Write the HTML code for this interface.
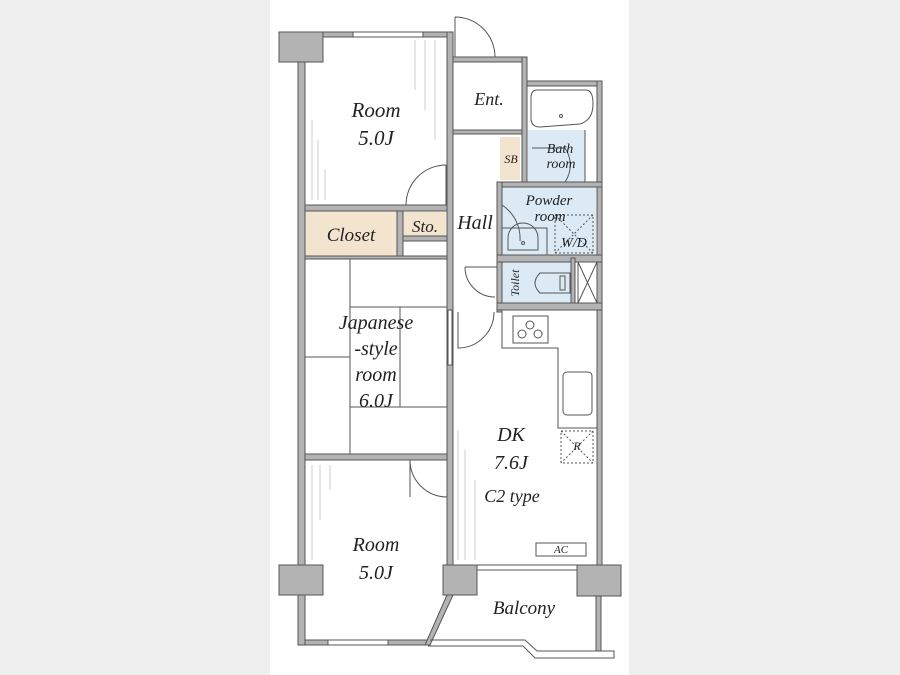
<!DOCTYPE html>
<html><head><meta charset="utf-8"><style>
html,body{margin:0;padding:0;background:#efefef;}
svg{display:block}
text{font-family:"Liberation Serif",serif;font-style:italic;fill:#222;text-anchor:middle}
</style></head><body>
<svg width="900" height="675" viewBox="0 0 900 675" xmlns="http://www.w3.org/2000/svg">
<rect x="0" y="0" width="900" height="675" fill="#efefef"/>
<rect x="270" y="0" width="359" height="675" fill="#fff"/>

<!-- fills -->
<rect x="305" y="211" width="92" height="45" fill="#f3e4cf"/>
<rect x="403" y="212" width="43" height="24" fill="#f3e4cf"/>
<rect x="500" y="137" width="20" height="43" fill="#f3e4cf"/>
<rect x="528" y="130" width="57" height="52" fill="#dbeaf5"/>
<rect x="502" y="187" width="94" height="68" fill="#dbeaf5"/>
<rect x="502" y="262" width="69" height="41" fill="#dbeaf5"/>

<g fill="#b3b3b3" stroke="#555" stroke-width="1">
<!-- outer left wall -->
<rect x="298" y="60" width="7" height="585"/>
<!-- top wall room -->
<rect x="305" y="32" width="148" height="5"/>
<!-- wall hall-left -->
<rect x="447" y="32" width="6" height="560"/>
<!-- ent walls -->
<rect x="453" y="57" width="74" height="5"/>
<rect x="522" y="57" width="5" height="126"/>
<rect x="453" y="130" width="69" height="4"/>
<!-- bath outer -->
<rect x="527" y="81" width="75" height="5"/>
<rect x="597" y="81" width="5" height="486"/>
<!-- powder block -->
<rect x="497" y="182" width="105" height="5"/>
<rect x="497" y="182" width="5" height="130"/>
<rect x="497" y="255" width="105" height="7"/>
<rect x="571" y="258" width="4" height="50"/>
<rect x="497" y="303" width="105" height="7"/>
<!-- room/closet walls -->
<rect x="305" y="205" width="142" height="6"/>
<rect x="397" y="211" width="6" height="48"/>
<rect x="403" y="236" width="44" height="5"/>
<rect x="305" y="256" width="142" height="3"/>
<rect x="305" y="454" width="142" height="6"/>
<!-- bottom wall -->
<rect x="305" y="640" width="123" height="5"/>
<!-- pillars -->
<rect x="279" y="32" width="44" height="30"/>
<rect x="279" y="565" width="44" height="30"/>
<rect x="443" y="565" width="34" height="30"/>
<rect x="577" y="565" width="44" height="31"/>
<!-- balcony right wall -->
<rect x="596" y="596" width="5" height="55"/>
</g>
<!-- windows -->
<g stroke="#555" stroke-width="1" fill="#fff">
<rect x="353" y="32" width="70" height="5"/>
<rect x="328" y="640" width="60" height="5"/>
<rect x="477" y="565" width="100" height="5"/>
<rect x="448" y="310" width="4" height="55"/>
</g>
<!-- diagonal wall lower room -->
<path d="M447 595 L425 645 L430 645 L453 595 Z" fill="#b3b3b3" stroke="#555"/>
<!-- balcony rail -->
<g fill="none" stroke="#555" stroke-width="1">
<path d="M430 640 L525 640 L537 651 L596 651"/>
<path d="M428 646 L523 646 L535 658 L614 658 L614 651 L601 651"/>
</g>

<!-- interior thin lines -->
<g fill="none" stroke="#555" stroke-width="1">
<!-- bathtub -->
<path d="M537 90 H586 Q593 90 593 104 Q593 120 580 124 L540 127 Q531 127 531 118 V98 Q531 90 537 90 Z"/>
<circle cx="561" cy="116" r="1.5"/>
<line x1="585" y1="130" x2="585" y2="182"/>
<!-- tatami -->
<line x1="350" y1="259" x2="350" y2="454"/>
<line x1="350" y1="307" x2="447" y2="307"/>
<line x1="305" y1="357" x2="350" y2="357"/>
<line x1="400" y1="307" x2="400" y2="407"/>
<line x1="350" y1="407" x2="447" y2="407"/>
<!-- doors -->
<path d="M455 17 A40 40 0 0 1 495 57 M455 17 V57"/>
<path d="M446 165 A40 40 0 0 0 406 205 M446 165 V205"/>
<path d="M502 205 A40 40 0 0 1 520 241"/>
<path d="M532 148 H565 A30 30 0 0 1 565 182"/>
<path d="M465 267 A30 30 0 0 0 495 297 M465 267 H497"/>
<path d="M458 312 V348 A36 36 0 0 0 494 312"/>
<path d="M410 460 A37 37 0 0 0 447 497 M410 460 V497"/>
<!-- sink powder -->
<path d="M508 250 V238 A15 15 0 0 1 538 238 V250 Z M502 228 H547 V255"/>
<circle cx="523" cy="243" r="1.5"/>
<!-- W/D -->
<rect x="555" y="215" width="38" height="38" stroke-dasharray="2,2"/>
<line x1="555" y1="215" x2="593" y2="253" stroke-dasharray="2,2"/>
<line x1="593" y1="215" x2="555" y2="253" stroke-dasharray="2,2"/>
<!-- toilet -->
<path d="M570 273 H540 Q530 283 540 293 H570 Z"/>
<rect x="560" y="276" width="5" height="14"/>
<!-- X box -->
<rect x="578" y="262" width="19" height="41"/>
<line x1="578" y1="262" x2="597" y2="303"/><line x1="597" y1="262" x2="578" y2="303"/>
<!-- kitchen -->
<path d="M502 310 V348 H558 V428 H597"/>
<rect x="513" y="316" width="35" height="27"/>
<circle cx="530" cy="325" r="4"/><circle cx="522" cy="334" r="4"/><circle cx="538" cy="334" r="4"/>
<rect x="563" y="372" width="29" height="43" rx="4"/>
<rect x="561" y="431" width="32" height="32" stroke-dasharray="2,2"/>
<line x1="561" y1="431" x2="593" y2="463" stroke-dasharray="2,2"/>
<line x1="593" y1="431" x2="561" y2="463" stroke-dasharray="2,2"/>
<rect x="536" y="543" width="50" height="13"/>
</g>
<!-- curtain hatch -->
<g stroke="#ccc" stroke-width="1">
<line x1="415" y1="40" x2="415" y2="90"/><line x1="425" y1="40" x2="425" y2="110"/><line x1="435" y1="40" x2="435" y2="140"/>
<line x1="312" y1="120" x2="312" y2="200"/><line x1="318" y1="140" x2="318" y2="200"/><line x1="325" y1="170" x2="325" y2="200"/>
<line x1="312" y1="465" x2="312" y2="560"/><line x1="320" y1="465" x2="320" y2="520"/><line x1="330" y1="465" x2="330" y2="490"/>
<line x1="458" y1="430" x2="458" y2="560"/><line x1="465" y1="450" x2="465" y2="560"/><line x1="475" y1="480" x2="475" y2="560"/>
</g>

<!-- labels -->
<text x="376" y="117" font-size="21">Room</text>
<text x="376" y="145" font-size="21">5.0J</text>
<text x="489" y="105" font-size="18">Ent.</text>
<text x="511" y="163" font-size="12">SB</text>
<text x="560" y="153" font-size="14">Bath</text>
<text x="561" y="168" font-size="14">room</text>
<text x="549" y="205" font-size="15">Powder</text>
<text x="550" y="221" font-size="15">room</text>
<text x="574" y="247" font-size="14">W/D</text>
<text x="351" y="241" font-size="19">Closet</text>
<text x="425" y="232" font-size="17">Sto.</text>
<text x="475" y="229" font-size="20">Hall</text>
<text x="0" y="0" font-size="12" transform="translate(519,283) rotate(-90)">Toilet</text>
<text x="376" y="329" font-size="20">Japanese</text>
<text x="376" y="355" font-size="20">-style</text>
<text x="376" y="381" font-size="20">room</text>
<text x="376" y="407" font-size="20">6.0J</text>
<text x="511" y="441" font-size="20">DK</text>
<text x="511" y="469" font-size="20">7.6J</text>
<text x="512" y="502" font-size="18">C2 type</text>
<text x="577" y="450" font-size="12">R</text>
<text x="561" y="553" font-size="11">AC</text>
<text x="376" y="551" font-size="20">Room</text>
<text x="376" y="579" font-size="20">5.0J</text>
<text x="524" y="614" font-size="19">Balcony</text>
</svg>
</body></html>
